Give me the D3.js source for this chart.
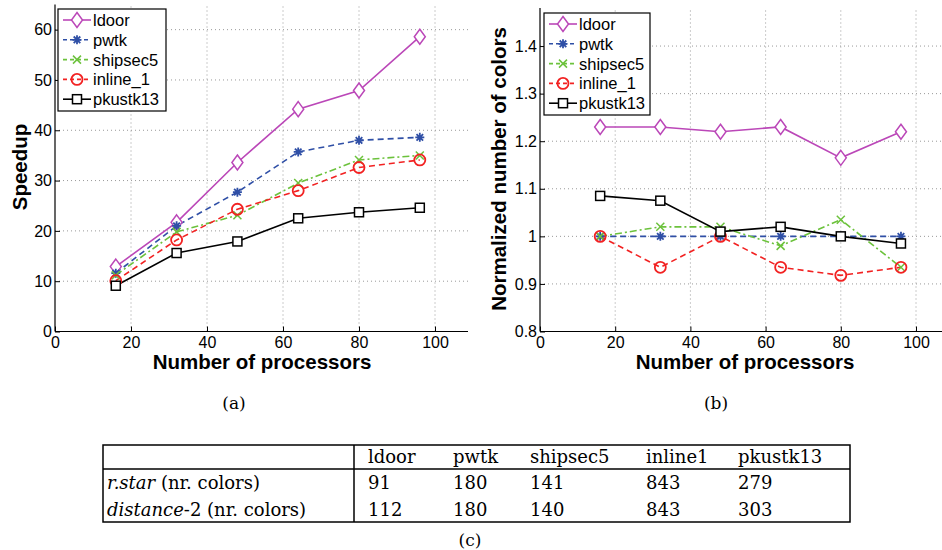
<!DOCTYPE html>
<html>
<head>
<meta charset="utf-8">
<script src="https://cdn.jsdelivr.net/npm/d3@7"></script>
<style>
  body { margin: 0; background: #fff; }
  svg { display: block; }
</style>
</head>
<body>
<div id="chart"></div>
<script>
// data
var procs = [16, 32, 48, 64, 80, 96];
var seriesNames = ["ldoor", "pwtk", "shipsec5", "inline_1", "pkustk13"];

var speedLdoor = [12.9, 21.7, 33.6, 44.2, 47.9, 58.6];
var speedPwtk = [11.6, 21.0, 27.7, 35.7, 38.0, 38.6];
var speedShipsec5 = [11.2, 19.8, 23.1, 29.5, 34.1, 35.0];
var speedInline1 = [10.1, 18.2, 24.3, 28.0, 32.6, 34.1];
var speedPkustk13 = [9.1, 15.6, 17.9, 22.5, 23.7, 24.6];

var colLdoor = [1.23, 1.23, 1.22, 1.23, 1.165, 1.22];
var colPwtk = [1.0, 1.0, 1.0, 1.0, 1.0, 1.0];
var colShipsec5 = [1.0, 1.02, 1.02, 0.98, 1.035, 0.935];
var colInline1 = [1.0, 0.935, 1.0, 0.935, 0.918, 0.935];
var colPkustk13 = [1.085, 1.075, 1.01, 1.02, 1.0, 0.985];

var xTicks = [0, 20, 40, 60, 80, 100];
var speedTicks = [0, 10, 20, 30, 40, 50, 60];
var colorTicks = [0.8, 0.9, 1, 1.1, 1.2, 1.3, 1.4];

var tableCols = ["ldoor", "pwtk", "shipsec5", "inline1", "pkustk13"];
var rstarColors = [91, 180, 141, 843, 279];
var dist2Colors = [112, 180, 140, 843, 303];

// styles per series
var styles = [
  {color: "#bb47b8", dash: null, marker: "diamond"},
  {color: "#2f4fa6", dash: "6,4", marker: "star"},
  {color: "#6cc23c", dash: "7,3,2,3", marker: "x"},
  {color: "#f22222", dash: "6,4", marker: "circle"},
  {color: "#000000", dash: null, marker: "square"}
];

var svg = d3.select("#chart").append("svg")
  .attr("width", 942)
  .attr("height", 550);

var sans = "'Liberation Sans', Arial, sans-serif";
var serif = "'DejaVu Serif', 'Liberation Serif', serif";

function drawMarker(g, type, x, y, color) {
  if (type == "diamond") {
    g.append("path").attr("d", `M${x},${y-7.5}L${x+5.5},${y}L${x},${y+7.5}L${x-5.5},${y}Z`)
      .attr("fill", "white").attr("stroke", color).attr("stroke-width", 1.5);
  } else if (type == "circle") {
    g.append("circle").attr("cx", x).attr("cy", y).attr("r", 5.5)
      .attr("fill", "none").attr("stroke", color).attr("stroke-width", 1.8);
  } else if (type == "square") {
    g.append("rect").attr("x", x - 4.5).attr("y", y - 4.5).attr("width", 9).attr("height", 9)
      .attr("fill", "white").attr("stroke", color).attr("stroke-width", 1.5);
  } else if (type == "x") {
    g.append("path").attr("d", `M${x-4},${y-4}L${x+4},${y+4}M${x-4},${y+4}L${x+4},${y-4}`)
      .attr("stroke", color).attr("stroke-width", 1.5);
  } else if (type == "star") {
    g.append("path")
      .attr("d", `M${x-4.5},${y}L${x+4.5},${y}M${x},${y-4.5}L${x},${y+4.5}M${x-3.3},${y-3.3}L${x+3.3},${y+3.3}M${x-3.3},${y+3.3}L${x+3.3},${y-3.3}`)
      .attr("stroke", color).attr("stroke-width", 1.8);
  }
}

function drawPanel(cfg) {
  var g = svg.append("g");
  var x = d3.scaleLinear().domain([0, 100]).range([cfg.x0, cfg.x100]);
  var y = d3.scaleLinear().domain(cfg.yDomain).range([cfg.yBottom, cfg.yTop]);

  // grid
  g.selectAll(".vgrid").data(xTicks.slice(1)).enter().append("line")
    .attr("x1", d => x(d)).attr("x2", d => x(d))
    .attr("y1", cfg.yBottom).attr("y2", cfg.yTop)
    .attr("stroke", "#999").attr("stroke-width", 1).attr("stroke-dasharray", "1,3");
  g.selectAll(".hgrid").data(cfg.yTicks.slice(1)).enter().append("line")
    .attr("x1", cfg.x0).attr("x2", cfg.xEnd)
    .attr("y1", d => y(d)).attr("y2", d => y(d))
    .attr("stroke", "#999").attr("stroke-width", 1).attr("stroke-dasharray", "1,3");

  // axes
  var bottom = d3.axisBottom(x).tickValues(xTicks).tickSize(-5).tickPadding(5).tickFormat(d3.format("d"));
  var left = d3.axisLeft(y).tickValues(cfg.yTicks).tickSize(-5).tickPadding(3).tickFormat(cfg.fmt);
  var xa = g.append("g").attr("transform", `translate(0,${cfg.yBottom})`).call(bottom);
  xa.select(".domain").attr("d", `M${cfg.x0},0H${cfg.xEnd}`);
  var ya = g.append("g").attr("transform", `translate(${cfg.x0},0)`).call(left);
  ya.select(".domain").attr("d", `M0,${cfg.yBottom}V${cfg.yTop}`);
  g.selectAll(".domain").attr("stroke", "#000").attr("stroke-width", 1.2);
  g.selectAll(".tick line").attr("stroke", "#000");
  g.selectAll(".tick text").attr("font-family", sans).attr("font-size", 16).attr("fill", "#000");

  // lines
  var line = d3.line().x((d, i) => x(procs[i])).y(d => y(d));
  cfg.series.forEach(function(vals, k) {
    var st = styles[k];
    g.append("path").datum(vals).attr("d", line)
      .attr("fill", "none").attr("stroke", st.color).attr("stroke-width", 1.6)
      .attr("stroke-dasharray", st.dash);
  });
  cfg.series.forEach(function(vals, k) {
    vals.forEach(function(v, i) { drawMarker(g, styles[k].marker, x(procs[i]), y(v), styles[k].color); });
  });

  // axis labels
  g.append("text").attr("x", cfg.xLabelX).attr("y", 369)
    .attr("text-anchor", "middle").attr("font-family", sans).attr("font-weight", "bold")
    .attr("font-size", 20.5).text("Number of processors");
  g.append("text").attr("transform", `translate(${cfg.yLabelX},${cfg.yLabelY}) rotate(-90)`)
    .attr("text-anchor", "middle").attr("dominant-baseline", "central")
    .attr("font-family", sans).attr("font-weight", "bold").attr("font-size", 20.5).text(cfg.yLabel);

  // legend
  var lg = g.append("g");
  lg.append("rect").attr("x", cfg.lgX).attr("y", cfg.lgY).attr("width", cfg.lgW).attr("height", 102)
    .attr("fill", "white").attr("stroke", "#000").attr("stroke-width", 1.2);
  seriesNames.forEach(function(name, k) {
    var ry = cfg.lgY + 11 + k * 19.8;
    var st = styles[k];
    lg.append("line").attr("x1", cfg.lgX + 5).attr("x2", cfg.lgX + 33).attr("y1", ry).attr("y2", ry)
      .attr("stroke", st.color).attr("stroke-width", 1.6).attr("stroke-dasharray", st.dash ? "4,3" : null);
    drawMarker(lg, st.marker, cfg.lgX + 19, ry, st.color);
    lg.append("text").attr("x", cfg.lgX + 35).attr("y", ry).attr("dominant-baseline", "central")
      .attr("font-family", sans).attr("font-size", 16.5).text(name);
  });

  // caption
  svg.append("text").attr("x", cfg.capX).attr("y", 409).attr("text-anchor", "middle")
    .attr("font-family", serif).attr("font-size", 17).text(cfg.caption);
}

drawPanel({
  x0: 55, x100: 435, xEnd: 468, yBottom: 331.5, yTop: 4.5, yDomain: [0, 65],
  yTicks: speedTicks, fmt: d3.format("d"),
  series: [speedLdoor, speedPwtk, speedShipsec5, speedInline1, speedPkustk13],
  xLabelX: 262, yLabelX: 19, yLabelY: 167, yLabel: "Speedup",
  lgX: 58, lgY: 9, lgW: 108, capX: 234, caption: "(a)"
});

drawPanel({
  x0: 540, x100: 916, xEnd: 942, yBottom: 331.5, yTop: 8, yDomain: [0.8, 1.48],
  yTicks: colorTicks, fmt: d => (d == 1 ? "1" : d3.format(".1f")(d)),
  series: [colLdoor, colPwtk, colShipsec5, colInline1, colPkustk13],
  xLabelX: 745, yLabelX: 498, yLabelY: 169, yLabel: "Normalized number of colors",
  lgX: 544, lgY: 13, lgW: 106, capX: 716, caption: "(b)"
});

// table (c)
var tbl = svg.append("g");
var tLeft = 103, tRight = 850, tTop = 445, tHead = 469, tBottom = 522, tDiv = 354;
var colX = [368, 453, 530, 646, 738];
var tsize = 18;
tbl.append("rect").attr("x", tLeft).attr("y", tTop).attr("width", tRight - tLeft).attr("height", tBottom - tTop)
  .attr("fill", "none").attr("stroke", "#000").attr("stroke-width", 1.5);
tbl.append("line").attr("x1", tLeft).attr("x2", tRight).attr("y1", tHead).attr("y2", tHead)
  .attr("stroke", "#000").attr("stroke-width", 1.5);
tbl.append("line").attr("x1", tDiv).attr("x2", tDiv).attr("y1", tTop).attr("y2", tBottom)
  .attr("stroke", "#000").attr("stroke-width", 1.5);

tbl.selectAll(".hd").data(tableCols).enter().append("text")
  .attr("x", (d, i) => colX[i]).attr("y", 463)
  .attr("font-family", serif).attr("font-size", tsize).text(d => d);
tbl.selectAll(".r1").data(rstarColors).enter().append("text")
  .attr("x", (d, i) => colX[i]).attr("y", 489)
  .attr("font-family", serif).attr("font-size", tsize).text(d => d);
tbl.selectAll(".r2").data(dist2Colors).enter().append("text")
  .attr("x", (d, i) => colX[i]).attr("y", 516)
  .attr("font-family", serif).attr("font-size", tsize).text(d => d);

var r1 = tbl.append("text").attr("x", 107).attr("y", 489).attr("font-family", serif).attr("font-size", tsize);
r1.append("tspan").attr("font-style", "italic").text("r.star");
r1.append("tspan").text(" (nr. colors)");
var r2 = tbl.append("text").attr("x", 107).attr("y", 516).attr("font-family", serif).attr("font-size", tsize);
r2.append("tspan").attr("font-style", "italic").text("distance");
r2.append("tspan").text("-2 (nr. colors)");

svg.append("text").attr("x", 470).attr("y", 546).attr("text-anchor", "middle")
  .attr("font-family", serif).attr("font-size", 17).text("(c)");
</script>
</body>
</html>
